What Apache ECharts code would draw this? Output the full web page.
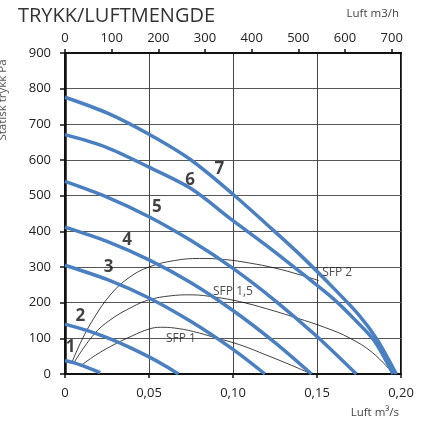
<!DOCTYPE html>
<html>
<head>
<meta charset="utf-8">
<script src="https://cdn.jsdelivr.net/npm/echarts@6/dist/echarts.min.js"></script>
<style>
html,body{margin:0;padding:0;background:#fff;}
#chart{width:430px;height:424px;}
</style>
</head>
<body>
<div id="chart"></div>
<script>
// ---- data ----
const bottomTickValues = [0, 0.05, 0.10, 0.15, 0.20];
const bottomTickLabels = ['0', '0,05', '0,10', '0,15', '0,20'];
const topTickValues = [0, 100, 200, 300, 400, 500, 600, 700];
const topTickLabels = ['0', '100', '200', '300', '400', '500', '600', '700'];

const curve1 = [[0, 38], [0.005, 32], [0.01, 24], [0.015, 15], [0.021, 4]];
const curve2 = [[0, 140], [0.0125, 123], [0.025, 102], [0.0375, 77], [0.05, 48], [0.06, 22], [0.0675, 0]];
const curve3 = [[0, 305], [0.025, 265], [0.05, 213], [0.075, 147], [0.1, 69], [0.119, 0]];
const curve4 = [[0, 412], [0.025, 372], [0.05, 320], [0.075, 256], [0.1, 178], [0.125, 88], [0.1467, 0]];
const curve5 = [[0, 540], [0.025, 496], [0.05, 441], [0.075, 374], [0.1, 296], [0.125, 206], [0.15, 105], [0.1734, 0]];
const curve6 = [[0, 671], [0.025, 635], [0.05, 580], [0.075, 520], [0.1, 430], [0.12, 360], [0.14, 286], [0.16, 210], [0.173, 150], [0.1838, 95], [0.1952, 0]];
const curve7 = [[0, 776], [0.025, 732], [0.05, 672], [0.075, 600], [0.1, 504], [0.12, 420], [0.14, 334], [0.16, 240], [0.175, 165], [0.186, 95], [0.1972, 0]];

const sfp2 = [[0.0043, 35], [0.01, 95], [0.017, 155], [0.027, 222], [0.038, 270], [0.05, 300], [0.065, 318], [0.08, 324], [0.095, 321], [0.11, 311], [0.125, 297], [0.14, 278], [0.151, 262]];
const sfp15 = [[0.0052, 31], [0.017, 110], [0.027, 152], [0.04, 188], [0.05, 208], [0.0625, 219], [0.075, 222], [0.09, 215], [0.104, 203], [0.12, 183], [0.138, 157], [0.155, 130], [0.1694, 101], [0.183, 60], [0.195, 3]];
const sfp1 = [[0.0092, 23], [0.018, 52], [0.027, 77], [0.04, 107], [0.05, 126], [0.0567, 131], [0.065, 129], [0.0765, 119], [0.09, 101], [0.104, 82], [0.122, 49], [0.135, 24], [0.1467, 0]];

const curveLabels = [['1', 0.0033, 74], ['2', 0.0092, 163], ['3', 0.026, 300], ['4', 0.0369, 376], ['5', 0.0547, 469], ['6', 0.0745, 544], ['7', 0.0919, 573]];
const sfpLabels = [['SFP 1', 0.069, 99], ['SFP 1,5', 0.1, 231], ['SFP 2', 0.162, 284]];

// ---- chart ----
const FONT = '"Open Sans", "Noto Sans", sans-serif';
const BLUE = '#4a7fc1';
const chart = echarts.init(document.getElementById('chart'), null, {renderer: 'canvas'});

function blueSeries(d) {
  return {type: 'line', xAxisIndex: 0, yAxisIndex: 0, data: d, smooth: 0.3, showSymbol: false, symbol: 'none',
    lineStyle: {color: BLUE, width: 3.5}, silent: true, z: 3};
}
function thinSeries(d) {
  return {type: 'line', xAxisIndex: 0, yAxisIndex: 0, data: d, smooth: 0.4, showSymbol: false, symbol: 'none',
    lineStyle: {color: '#111', width: 0.8}, silent: true, z: 2};
}

const option = {
  animation: false,
  textStyle: {fontFamily: FONT},
  grid: {left: 65, right: 29, top: 53, bottom: 50, show: true, borderColor: '#111', borderWidth: 2, backgroundColor: 'transparent'},
  xAxis: [
    {type: 'value', position: 'bottom', min: 0, max: 0.2, interval: 0.05,
      axisLine: {show: true, onZero: false, lineStyle: {color: '#111', width: 2}},
      axisTick: {show: true, length: 4, lineStyle: {color: '#111', width: 1.5}, customValues: bottomTickValues},
      axisLabel: {margin: 13, fontSize: 13, color: '#222', fontFamily: FONT, customValues: bottomTickValues,
        formatter: v => bottomTickLabels[Math.round(v / 0.05)]},
      splitLine: {show: true, lineStyle: {color: '#444', width: 1}}},
    {type: 'value', position: 'top', min: 0, max: 720, interval: 100,
      axisLine: {show: true, onZero: false, lineStyle: {color: '#111', width: 2}},
      axisTick: {show: true, length: 4, lineStyle: {color: '#111', width: 1.5}, customValues: topTickValues},
      axisLabel: {margin: 8, fontSize: 13, color: '#222', fontFamily: FONT, customValues: topTickValues,
        formatter: v => topTickLabels[Math.round(v / 100)]},
      splitLine: {show: false}}
  ],
  yAxis: [
    {type: 'value', min: 0, max: 900, interval: 100,
      axisLine: {show: true, onZero: false, lineStyle: {color: '#111', width: 2.5}},
      axisTick: {show: true, length: 5, lineStyle: {color: '#111', width: 1.5}},
      axisLabel: {margin: 14, fontSize: 13, color: '#222', fontFamily: FONT},
      splitLine: {show: true, lineStyle: {color: '#555', width: 1}}}
  ],
  graphic: [
    {type: 'text', left: 18, top: 6, style: {text: 'TRYKK/LUFTMENGDE', fontSize: 20, fontFamily: FONT, fill: '#333'}},
    {type: 'text', right: 31, top: 8, style: {text: 'Luft m3/h', fontSize: 11.5, fontFamily: FONT, fill: '#444'}},
    {type: 'text', right: 31, top: 407, style: {text: 'Luft m³/s', fontSize: 11.5, fontFamily: FONT, fill: '#444'}},
    {type: 'text', x: 3, y: 100, rotation: Math.PI / 2,
      style: {text: 'Statisk trykk Pa', fontSize: 11.5, fontFamily: FONT, fill: '#555', align: 'center', verticalAlign: 'middle'}}
  ],
  series: [
    thinSeries(sfp2), thinSeries(sfp15), thinSeries(sfp1),
    blueSeries(curve1), blueSeries(curve2), blueSeries(curve3), blueSeries(curve4),
    blueSeries(curve5), blueSeries(curve6), blueSeries(curve7),
    {type: 'scatter', data: curveLabels.map(l => ({name: l[0], value: [l[1], l[2]]})), symbolSize: 0, silent: true, z: 5,
      label: {show: true, position: 'inside', formatter: p => p.name, fontSize: 17, fontWeight: 'bold', color: '#111', fontFamily: FONT}},
    {type: 'scatter', data: sfpLabels.map(l => ({name: l[0], value: [l[1], l[2]]})), symbolSize: 0, silent: true, z: 5,
      label: {show: true, position: 'inside', formatter: p => p.name, fontSize: 12, color: '#222', fontFamily: FONT}}
  ]
};
chart.setOption(option);
</script>
</body>
</html>
